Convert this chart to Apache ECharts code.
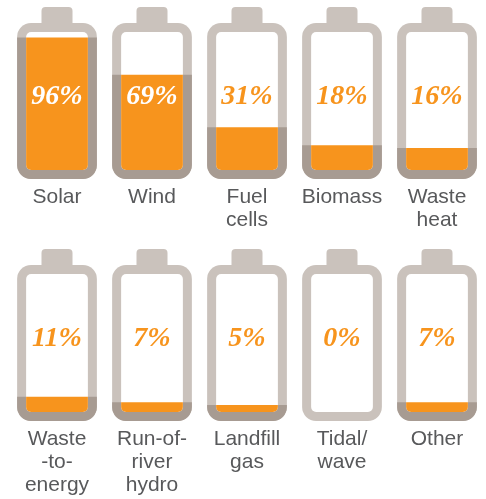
<!DOCTYPE html>
<html>
<head>
<meta charset="utf-8">
<script src="https://cdn.jsdelivr.net/npm/echarts@6/dist/echarts.min.js"></script>
<style>
  html, body { margin: 0; padding: 0; background: #fff; }
  #chart { width: 486px; height: 499px; }
</style>
</head>
<body>
<div id="chart"></div>
<script>
// top row batteries
var topNames = ['Solar', 'Wind', 'Fuel\ncells', 'Biomass', 'Waste\nheat'];
var topValues = [96, 69, 31, 18, 16];
// bottom row batteries
var bottomNames = ['Waste\n-to-\nenergy', 'Run-of-\nriver\nhydro', 'Landfill\ngas', 'Tidal/\nwave', 'Other'];
var bottomValues = [11, 7, 5, 0, 7];

var LIGHT = '#cac2bc';
var DARK = '#a79b92';
var ORANGE = '#f7941d';

function battery(params, api) {
  var i = api.value(0);
  var v = api.value(1);
  var base = api.coord([i, 0]);
  var full = api.coord([i, 100]);
  var lvl = api.coord([i, v]);
  var band = api.size([1, 0])[0];
  var cx = base[0];
  var iw = band * 0.65;          // inner width
  var wall = 9;
  var ix = cx - iw / 2;
  var iy = full[1];
  var ih = base[1] - full[1];
  var ow = iw + wall * 2;
  var ox = ix - wall;
  var oy = iy - wall;
  var oh = ih + wall * 2;
  var capW = 31;

  var kids = [
    { type: 'rect', shape: { x: cx - capW / 2, y: oy - 16, width: capW, height: 20, r: [4, 4, 0, 0] }, style: { fill: LIGHT } },
    { type: 'rect', shape: { x: ox, y: oy, width: ow, height: oh, r: 14 }, style: { fill: LIGHT } }
  ];
  if (v > 0) {
    kids.push({ type: 'rect', shape: { x: ox, y: lvl[1], width: ow, height: oy + oh - lvl[1], r: [0, 0, 14, 14] }, style: { fill: DARK } });
  }
  kids.push({ type: 'rect', shape: { x: ix, y: iy, width: iw, height: ih, r: 5 }, style: { fill: '#fff' } });
  if (v > 0) {
    kids.push({ type: 'rect', shape: { x: ix, y: lvl[1], width: iw, height: base[1] - lvl[1], r: [0, 0, 5, 5] }, style: { fill: ORANGE } });
  }
  kids.push({
    type: 'text',
    style: {
      text: v + '%',
      x: cx,
      y: (iy + base[1]) / 2 - 4,
      fill: v > 55 ? '#fff' : ORANGE,
      font: 'italic bold 28px "Liberation Serif"',
      align: 'center',
      verticalAlign: 'middle'
    }
  });
  return { type: 'group', children: kids };
}

function rowAxis(names, grid) {
  return {
    type: 'category', gridIndex: grid, data: names,
    axisLine: { show: false }, axisTick: { show: false }, splitLine: { show: false },
    axisLabel: { interval: 0, margin: 16, fontSize: 21, lineHeight: 23, color: '#58595b', fontFamily: 'Liberation Sans', verticalAlign: 'top' }
  };
}

var chart = echarts.init(document.getElementById('chart'));
chart.setOption({
  animation: false,
  grid: [
    { left: 9.5, width: 475, top: 32, height: 138 },
    { left: 9.5, width: 475, top: 274, height: 138 }
  ],
  xAxis: [rowAxis(topNames, 0), rowAxis(bottomNames, 1)],
  yAxis: [
    { type: 'value', gridIndex: 0, min: 0, max: 100, show: false },
    { type: 'value', gridIndex: 1, min: 0, max: 100, show: false }
  ],
  series: [
    { type: 'custom', xAxisIndex: 0, yAxisIndex: 0, clip: false, renderItem: battery,
      encode: { x: 0, y: 1 }, data: topValues.map(function (v, i) { return [i, v]; }) },
    { type: 'custom', xAxisIndex: 1, yAxisIndex: 1, clip: false, renderItem: battery,
      encode: { x: 0, y: 1 }, data: bottomValues.map(function (v, i) { return [i, v]; }) }
  ]
});
</script>
</body>
</html>
